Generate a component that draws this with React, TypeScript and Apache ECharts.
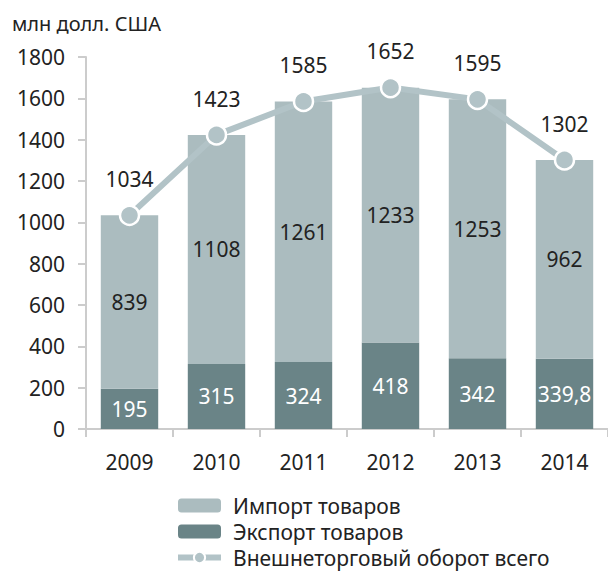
import React, { useEffect, useRef } from "react";
import * as echarts from "echarts";

const years = ["2009", "2010", "2011", "2012", "2013", "2014"];
const exportVals = [195, 315, 324, 418, 342, 339.8];
const importVals = [839, 1108, 1261, 1233, 1253, 962];
const totalVals = [1034, 1423, 1585, 1652, 1595, 1302];
const yTicks = [0, 200, 400, 600, 800, 1000, 1200, 1400, 1600, 1800];

const FONT = "'Noto Sans', sans-serif";
const FS = 21;
const fmt = (v: number) => String(v).replace(".", ",");
const LINE_COLOR = "#b2c3c7";

export default function App() {
  const ref = useRef<HTMLDivElement>(null);
  useEffect(() => {
    if (!ref.current) return;
    const chart = echarts.init(ref.current, undefined, { renderer: "svg" });
    chart.setOption({
      animation: false,
      textStyle: { fontFamily: FONT },
      graphic: [
        {
          type: "text",
          left: 12,
          top: 13,
          style: { text: "млн долл. США", fontSize: 20, fill: "#222", fontFamily: FONT },
        },
      ],
      grid: { left: 86, right: 0, top: 57, bottom: 143, containLabel: false },
      legend: {
        orient: "vertical",
        left: 175,
        top: 495,
        height: 77,
        padding: 0,
        itemWidth: 43,
        itemHeight: 14,
        itemGap: 5,
        textStyle: { fontSize: 21, color: "#222", fontFamily: FONT, padding: [0, 0, 0, 7] },
        data: [
          { name: "Импорт товаров" },
          { name: "Экспорт товаров" },
          {
            name: "Внешнеторговый оборот всего",
            lineStyle: { width: 6, color: LINE_COLOR },
            itemStyle: { color: LINE_COLOR, borderColor: "#ffffff", borderWidth: 2 },
          },
        ],
      },
      xAxis: {
        type: "category",
        data: years,
        axisLine: { lineStyle: { color: "#cccccc", width: 2 } },
        axisTick: { show: true, length: 8, lineStyle: { color: "#cccccc", width: 2 } },
        axisLabel: { fontSize: FS, color: "#222", margin: 22, fontFamily: FONT },
      },
      yAxis: {
        type: "value",
        min: yTicks[0],
        max: yTicks[yTicks.length - 1],
        interval: 200,
        splitLine: { show: false },
        axisLine: { show: true, lineStyle: { color: "#cccccc", width: 2 } },
        axisTick: { show: true, length: 8, lineStyle: { color: "#cccccc", width: 2 } },
        axisLabel: {
          fontSize: FS,
          color: "#222",
          margin: 21,
          fontFamily: FONT,
          formatter: (v: number) => String(v),
        },
      },
      series: [
        {
          name: "Экспорт товаров",
          type: "bar",
          stack: "t",
          data: exportVals,
          barWidth: "66%",
          itemStyle: { color: "#6a8487" },
          label: {
            show: true,
            position: "inside",
            color: "#ffffff",
            fontSize: FS,
            fontFamily: FONT,
            formatter: (p: any) => fmt(p.value),
          },
        },
        {
          name: "Импорт товаров",
          type: "bar",
          stack: "t",
          data: importVals,
          barWidth: "66%",
          itemStyle: { color: "#abbcbf" },
          label: {
            show: true,
            position: "inside",
            color: "#222",
            fontSize: FS,
            fontFamily: FONT,
            formatter: (p: any) => fmt(p.value),
          },
        },
        {
          name: "Внешнеторговый оборот всего",
          type: "line",
          data: totalVals,
          symbol: "circle",
          symbolSize: 19,
          lineStyle: { color: LINE_COLOR, width: 6 },
          itemStyle: { color: LINE_COLOR, borderColor: "#ffffff", borderWidth: 2.5 },
          label: {
            show: true,
            position: "top",
            distance: 15,
            color: "#222",
            fontSize: FS,
            fontFamily: FONT,
          },
          z: 5,
        },
      ],
    });
    return () => chart.dispose();
  }, []);
  return <div ref={ref} style={{ width: 608, height: 572, position: "absolute", left: 0, top: 0 }} />;
}
